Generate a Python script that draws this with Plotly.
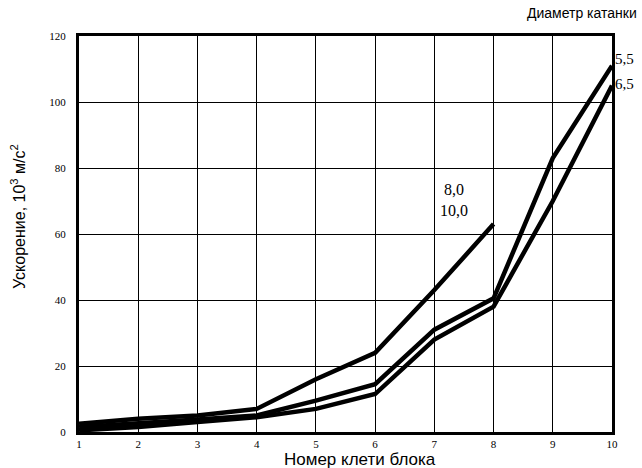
import plotly.graph_objects as go

stands = [1, 2, 3, 4, 5, 6, 7, 8, 9, 10]
acc_8_10 = [2.5, 4, 5, 7, 16, 24, 43, 63]
acc_5_5 = [1.5, 2.5, 3.8, 5, 9.5, 14.5, 31, 40.5, 83, 111]
acc_6_5 = [0.5, 1.5, 3, 4.5, 7, 11.5, 28, 38, 70, 105]
yticks = [0, 20, 40, 60, 80, 100, 120]

fig = go.Figure()
for ys in [acc_8_10, acc_5_5, acc_6_5]:
    fig.add_trace(go.Scatter(x=stands[:len(ys)], y=ys, mode="lines",
                             line=dict(color="black", width=4.5), showlegend=False,
                             cliponaxis=False))

serif = "Liberation Serif"
sans = "Liberation Sans"
fig.add_annotation(x=10, y=113, text="5,5", showarrow=False, xanchor="left", xshift=1,
                   font=dict(family=serif, size=15, color="black"))
fig.add_annotation(x=10, y=105.5, text="6,5", showarrow=False, xanchor="left", xshift=1,
                   font=dict(family=serif, size=15, color="black"))
fig.add_annotation(x=7.33, y=73.5, text="8,0", showarrow=False,
                   font=dict(family=serif, size=16, color="black"))
fig.add_annotation(x=7.33, y=67, text="10,0", showarrow=False,
                   font=dict(family=serif, size=16, color="black"))
fig.add_annotation(xref="paper", yref="paper", x=1.05, y=1.032, text="Диаметр катанки",
                   showarrow=False, xanchor="right", yanchor="bottom",
                   font=dict(family=sans, size=14, color="black"))
# axis titles
fig.add_annotation(xref="paper", yref="paper", x=0.527, y=0, yshift=-27,
                   text="Номер клети блока", showarrow=False, xanchor="center", yanchor="middle",
                   font=dict(family=sans, size=17, color="black"))
fig.add_annotation(xref="paper", yref="paper", x=0, xshift=-61, y=0.543,
                   text="Ускорение, 10<sup>3</sup> м/с<sup>2</sup>", textangle=-90,
                   showarrow=False, xanchor="center", yanchor="middle",
                   font=dict(family=sans, size=16, color="black"))

fig.update_layout(
    width=642, height=468,
    margin=dict(l=79, r=30, t=36, b=36),
    plot_bgcolor="white", paper_bgcolor="white",
    xaxis=dict(range=[1, 10], tickvals=stands, showgrid=True, gridcolor="black", gridwidth=1,
               showline=True, linecolor="black", linewidth=3, mirror=True, zeroline=False,
               automargin=False,
               ticks="", tickfont=dict(family=serif, size=11, color="black")),
    yaxis=dict(range=[0, 120], tickvals=yticks, showgrid=True, gridcolor="black", gridwidth=1,
               showline=True, linecolor="black", linewidth=3, mirror=True, zeroline=False,
               automargin=False,
               ticks="", ticklabelstandoff=8, tickfont=dict(family=serif, size=11, color="black")),
)
fig.write_html("out.html", config={"displayModeBar": False},
               post_script="document.body.style.margin='0';document.body.style.overflow='hidden';")
